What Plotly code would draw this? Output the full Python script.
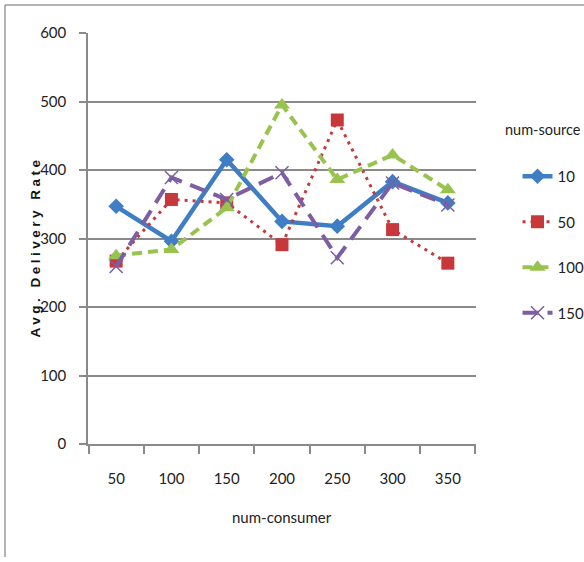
import plotly.graph_objects as go

# Number of consumers (x categories)
consumers = ["50", "100", "150", "200", "250", "300", "350"]

# Average delivery rate per num-source setting
rate_src10 = [347, 296, 415, 325, 318, 383, 352]
rate_src50 = [267, 357, 352, 291, 473, 313, 264]
rate_src100 = [275, 284, 345, 495, 386, 422, 371]
rate_src150 = [259, 389, 357, 396, 272, 381, 349]

series_names = ["10", "50", "100", "150"]
y_ticks = [0, 100, 200, 300, 400, 500, 600]

FONT = "Lato, 'Open Sans', sans-serif"
GREY = "#8a8a8a"

styles = [
    dict(color="#3f7dc4", width=4.5, dash="solid", symbol="diamond", size=12, mline=0),
    dict(color="#c8383a", width=3, dash="3px,5px", symbol="square", size=13, mline=0),
    dict(color="#98c34e", width=4, dash="10px,6px", symbol="triangle-up", size=14, mline=0),
    dict(color="#7d5ea3", width=4, dash="16px,9px", symbol="x-thin", size=13, mline=1.5),
]
values = [rate_src10, rate_src50, rate_src100, rate_src150]

fig = go.Figure()
for i, (name, vals, st) in enumerate(zip(series_names, values, styles)):
    fig.add_trace(go.Scatter(
        x=consumers, y=vals, name=name, mode="lines+markers",
        legendgroup=f"g{i}",
        line=dict(color=st["color"], width=st["width"], dash=st["dash"]),
        marker=dict(symbol=st["symbol"], size=st["size"], color=st["color"],
                    line=dict(color=st["color"], width=st["mline"])),
    ))

fig.update_layout(
    width=584, height=562,
    margin=dict(l=88, r=108, t=33, b=118, autoexpand=False),
    paper_bgcolor="white", plot_bgcolor="white",
    font=dict(family=FONT, size=15, color="#222"),
    showlegend=True,
    legend=dict(
        x=1.107, y=0.691, xanchor="left", yanchor="top",
        font=dict(family=FONT, size=15, color="#222"),
        tracegroupgap=23, bgcolor="rgba(0,0,0,0)",
    ),
    xaxis=dict(
        type="category", tickson="boundaries", ticks="outside", ticklen=8,
        tickcolor=GREY, tickwidth=1.5, showline=True, linecolor=GREY, linewidth=1.5,
        showgrid=False, ticklabelstandoff=20,
        tickfont=dict(family=FONT, size=15, color="#222"),
    ),
    yaxis=dict(
        range=[0, 600], tickvals=y_ticks, ticks="outside", ticklen=7,
        tickcolor=GREY, tickwidth=1.5, showline=True, linecolor=GREY, linewidth=1.5,
        showgrid=True, gridcolor=GREY, gridwidth=1.5, zeroline=False,
        ticklabelstandoff=10,
        tickfont=dict(family=FONT, size=15, color="#222"),
    ),
    annotations=[
        dict(text="num-consumer", xref="paper", yref="paper", x=0.5, y=-0.205,
             showarrow=False, font=dict(family=FONT, size=15, color="#222")),
        dict(text="num-source", xref="paper", yref="paper", x=1.0696, y=0.764,
             xanchor="left", yanchor="middle", showarrow=False,
             font=dict(family=FONT, size=14.5, color="#222")),
        dict(text='<span style="letter-spacing:3.5px">Avg. Delivery Rate</span>',
             xref="paper", yref="paper", x=-0.159, y=0.48, textangle=-90,
             showarrow=False,
             font=dict(family="Arial, 'Liberation Sans', sans-serif", size=13.5,
                       color="#111", weight="bold")),
    ],
    shapes=[
        dict(type="line", xref="paper", yref="paper", x0=-0.2139, x1=1.3, y0=1.068, y1=1.068,
             line=dict(color="#9a9a9a", width=1.5)),
        dict(type="line", xref="paper", yref="paper", x0=-0.2139, x1=-0.2139, y0=1.068, y1=-0.275,
             line=dict(color="#9a9a9a", width=1.5)),
    ],
)

fig.write_html("out.html")
